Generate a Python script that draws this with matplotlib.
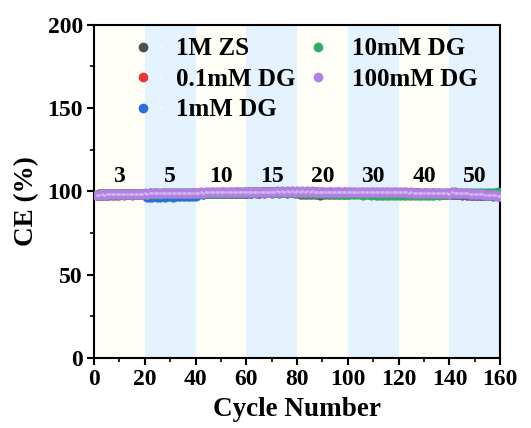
import numpy as np
import matplotlib.pyplot as plt
from matplotlib.legend_handler import HandlerTuple

plt.rcParams['font.family'] = 'Liberation Serif'
plt.rcParams['font.weight'] = 'bold'

# Coulombic efficiency per cycle, current density changes every 20 cycles
cycles = np.arange(1, 161)
rates = ['3', '5', '10', '15', '20', '30', '40', '50']
labels = ['1M ZS', '0.1mM DG', '1mM DG', '10mM DG', '100mM DG']
colors = ['#505050', '#e8343a', '#2a6fd8', '#38a86a', '#b27fe2']

ce_zs = [
    97.9, 98.1, 98.2, 98.0, 98.3, 98.2, 98.1, 98.3, 98.2, 98.4, 98.3, 98.2, 98.4, 98.3, 98.2, 98.4, 98.3, 98.5, 98.4, 98.3,
    98.0, 98.2, 98.1, 98.3, 98.2, 98.1, 98.3, 98.2, 98.4, 98.3, 98.2, 98.4, 98.3, 98.5, 98.4, 98.3, 98.5, 98.4, 98.6, 98.5,
    98.6, 98.7, 98.6, 98.8, 98.7, 98.9, 98.8, 98.7, 98.9, 98.8, 99.0, 98.9, 98.8, 99.0, 98.9, 99.1, 99.0, 98.9, 99.1, 99.0,
    99.2, 99.1, 99.3, 99.2, 99.1, 99.3, 99.2, 99.4, 99.3, 99.2, 99.4, 99.3, 99.2, 99.4, 99.3, 99.2, 99.4, 99.3, 99.2, 99.3,
    98.6, 98.4, 98.2, 98.5, 98.1, 98.5, 98.2, 98.4, 98.0, 98.5, 98.2, 98.1, 98.5, 98.2, 98.4, 98.1, 98.5, 98.2, 98.1, 98.4,
    98.8, 98.9, 98.7, 99.0, 98.8, 98.9, 98.7, 99.0, 98.8, 98.9, 98.7, 99.0, 98.8, 98.9, 98.7, 98.9, 98.8, 98.7, 98.9, 98.8,
    98.6, 98.7, 98.5, 98.7, 98.6, 98.5, 98.7, 98.6, 98.4, 98.6, 98.5, 98.4, 98.6, 98.5, 98.3, 98.5, 98.4, 98.3, 98.5, 98.4,
    98.2, 98.3, 98.1, 98.2, 98.0, 98.1, 97.9, 98.0, 97.8, 97.9, 97.7, 97.8, 97.6, 97.7, 97.5, 97.6, 97.4, 97.5, 97.3, 97.2,
]
ce_01 = [
    97.6, 97.8, 97.7, 97.9, 97.8, 98.0, 97.9, 98.1, 98.0, 97.9, 98.1, 98.0, 98.2, 98.1, 98.0, 98.2, 98.1, 98.3, 98.2, 98.1,
    98.1, 98.3, 98.2, 98.4, 98.3, 98.2, 98.4, 98.3, 98.5, 98.4, 98.3, 98.5, 98.4, 98.6, 98.5, 98.4, 98.6, 98.5, 98.7, 98.6,
    98.7, 98.8, 98.7, 98.9, 98.8, 99.0, 98.9, 98.8, 99.0, 98.9, 99.1, 99.0, 98.9, 99.1, 99.0, 99.2, 99.1, 99.0, 99.2, 99.1,
    99.3, 99.2, 99.4, 99.3, 99.2, 99.4, 99.3, 99.5, 99.4, 99.3, 99.5, 99.4, 99.3, 99.5, 99.4, 99.3, 99.5, 99.4, 99.3, 99.4,
    99.2, 99.3, 99.1, 99.3, 99.2, 99.1, 99.3, 99.2, 99.0, 99.2, 99.1, 99.0, 99.2, 99.1, 99.0, 99.2, 99.1, 99.0, 99.2, 99.1,
    99.0, 99.1, 98.9, 99.1, 99.0, 98.9, 99.1, 99.0, 98.8, 99.0, 98.9, 98.8, 99.0, 98.9, 98.8, 99.0, 98.9, 98.8, 98.9, 98.8,
    98.7, 98.8, 98.6, 98.8, 98.7, 98.6, 98.8, 98.7, 98.5, 98.7, 98.6, 98.5, 98.7, 98.6, 98.5, 98.6, 98.5, 98.4, 98.6, 98.5,
    98.3, 98.4, 98.2, 98.3, 98.1, 98.2, 98.0, 98.1, 97.9, 98.0, 97.8, 97.9, 97.7, 97.8, 97.6, 97.7, 97.5, 97.6, 97.4, 97.3,
]
ce_1 = [
    97.8, 98.0, 97.9, 98.1, 98.0, 98.2, 98.1, 98.0, 98.2, 98.1, 98.3, 98.2, 98.1, 98.3, 98.2, 98.4, 98.3, 98.2, 98.4, 98.3,
    96.6, 96.8, 96.7, 96.9, 96.8, 96.7, 96.9, 96.8, 97.0, 96.9, 96.8, 97.0, 96.9, 97.1, 97.0, 96.9, 97.1, 97.0, 97.2, 97.1,
    98.6, 98.7, 98.6, 98.8, 98.7, 98.9, 98.8, 98.7, 98.9, 98.8, 99.0, 98.9, 98.8, 99.0, 98.9, 99.1, 99.0, 98.9, 99.1, 99.0,
    99.3, 99.2, 99.4, 99.3, 99.2, 99.4, 99.3, 99.5, 99.4, 99.3, 99.5, 99.4, 99.3, 99.5, 99.4, 99.3, 99.5, 99.4, 99.3, 99.4,
    99.3, 99.4, 99.2, 99.4, 99.3, 99.2, 99.4, 99.3, 99.1, 99.3, 99.2, 99.1, 99.3, 99.2, 99.1, 99.3, 99.2, 99.1, 99.3, 99.2,
    99.1, 99.2, 99.0, 99.2, 99.1, 99.0, 99.2, 99.1, 98.9, 99.1, 99.0, 98.9, 99.1, 99.0, 98.9, 99.1, 99.0, 98.9, 99.0, 98.9,
    98.8, 98.9, 98.7, 98.9, 98.8, 98.7, 98.9, 98.8, 98.6, 98.8, 98.7, 98.6, 98.8, 98.7, 98.6, 98.7, 98.6, 98.5, 98.7, 98.6,
    98.4, 98.5, 98.3, 98.4, 98.2, 98.3, 98.1, 98.2, 98.0, 98.1, 97.9, 98.0, 97.8, 97.9, 97.7, 97.8, 97.6, 97.7, 97.5, 97.4,
]
ce_10 = [
    97.9, 98.1, 98.0, 98.2, 98.1, 98.3, 98.2, 98.1, 98.3, 98.2, 98.4, 98.3, 98.2, 98.4, 98.3, 98.5, 98.4, 98.3, 98.5, 98.4,
    98.5, 98.7, 98.6, 98.8, 98.7, 98.6, 98.8, 98.7, 98.9, 98.8, 98.7, 98.9, 98.8, 99.0, 98.9, 98.8, 99.0, 98.9, 99.1, 99.0,
    98.9, 99.0, 98.9, 99.1, 99.0, 99.2, 99.1, 99.0, 99.2, 99.1, 99.3, 99.2, 99.1, 99.3, 99.2, 99.4, 99.3, 99.2, 99.4, 99.3,
    99.4, 99.3, 99.5, 99.4, 99.3, 99.5, 99.4, 99.6, 99.5, 99.4, 99.6, 99.5, 99.4, 99.6, 99.5, 99.4, 99.6, 99.5, 99.4, 99.5,
    99.2, 99.0, 99.1, 98.9, 99.1, 99.0, 98.8, 99.0, 98.9, 98.7, 98.9, 98.8, 98.6, 98.8, 98.7, 98.5, 98.7, 98.6, 98.4, 98.5,
    98.2, 98.3, 98.1, 98.3, 98.2, 98.0, 98.2, 98.1, 97.9, 98.1, 98.0, 97.8, 98.0, 97.9, 97.7, 97.9, 97.8, 97.7, 97.9, 97.8,
    97.9, 98.0, 97.8, 98.0, 97.9, 97.8, 98.0, 97.9, 97.7, 97.9, 97.8, 98.0, 97.9, 97.8, 98.1, 98.0, 98.2, 98.3, 98.5, 98.4,
    99.2, 99.3, 99.2, 99.1, 99.2, 99.0, 99.1, 99.0, 99.1, 98.9, 99.0, 99.1, 99.0, 99.2, 99.1, 99.0, 99.2, 99.1, 99.3, 99.2,
]
ce_100 = [
    97.9, 98.0, 98.1, 98.0, 98.2, 98.1, 98.2, 98.3, 98.2, 98.3, 98.4, 98.3, 98.4, 98.5, 98.4, 98.5, 98.6, 98.5, 98.6, 98.7,
    98.6, 98.7, 98.8, 98.7, 98.8, 98.9, 98.8, 98.9, 99.0, 98.9, 99.0, 99.1, 99.0, 99.1, 99.0, 99.1, 99.2, 99.1, 99.2, 99.1,
    99.2, 99.3, 99.2, 99.3, 99.4, 99.3, 99.4, 99.3, 99.4, 99.5, 99.4, 99.5, 99.4, 99.5, 99.6, 99.5, 99.6, 99.5, 99.6, 99.7,
    99.6, 99.7, 99.6, 99.7, 99.8, 99.7, 99.8, 99.7, 99.8, 99.7, 99.8, 99.9, 99.8, 99.9, 99.8, 99.9, 99.8, 99.9, 99.8, 99.9,
    99.8, 99.9, 99.8, 99.9, 99.8, 99.9, 99.8, 99.7, 99.8, 99.7, 99.8, 99.7, 99.8, 99.7, 99.8, 99.7, 99.8, 99.7, 99.8, 99.7,
    99.6, 99.7, 99.6, 99.7, 99.6, 99.5, 99.6, 99.5, 99.6, 99.5, 99.6, 99.5, 99.4, 99.5, 99.4, 99.5, 99.4, 99.5, 99.4, 99.3,
    99.3, 99.4, 99.3, 99.2, 99.3, 99.2, 99.1, 99.2, 99.1, 99.0, 99.1, 99.0, 98.9, 99.0, 98.9, 98.8, 98.9, 98.8, 98.7, 98.6,
    99.4, 99.2, 99.1, 99.0, 98.9, 98.8, 98.7, 98.6, 98.5, 98.4, 98.3, 98.2, 98.1, 98.0, 97.9, 97.8, 97.6, 97.5, 97.3, 97.1,
]
series = [ce_zs, ce_01, ce_1, ce_10, ce_100]

fig = plt.figure(figsize=(5.31, 4.28), dpi=100)
ax = fig.add_axes([0.177, 0.164, 0.765, 0.778])

# alternating background bands, one per current density
for i, r in enumerate(rates):
    band = '#e3f2fc' if i % 2 else '#fffef6'
    ax.axvspan(i * 20, (i + 1) * 20, color=band, lw=0, zorder=0)
    ax.text(i * 20 + 10, 102.5, r, ha='center', va='bottom',
            fontsize=17, fontweight='bold', zorder=5)

handles = []
for y, c, lab in zip(series, colors, labels):
    ax.plot(cycles, y, 'o', ms=6.8, mfc=c, mec=c, mew=0.4, zorder=3)
    ax.plot(cycles, y, 'o', ms=2.2, mfc='white', mec='none', alpha=0.35, zorder=3)
    h1, = ax.plot([], [], 'o', ms=7, mfc=c, mec='none')
    h2, = ax.plot([], [], 'o', ms=2.5, mfc='white', mec='none', alpha=0.55)
    handles.append((h1, h2))

ax.legend(handles, labels, handler_map={tuple: HandlerTuple(ndivide=None)},
          ncol=2, loc='upper left', bbox_to_anchor=(0.055, 1.03), frameon=False,
          prop={'family': 'Liberation Serif', 'weight': 'bold', 'size': 18},
          handlelength=1.0, handletextpad=0.5, columnspacing=0.75,
          labelspacing=0.3)

ax.set_xlim(0, 160)
ax.set_ylim(0, 200)
ax.set_xticks(np.arange(0, 161, 20))
ax.set_xticks(np.arange(10, 160, 20), minor=True)
ax.set_yticks(np.arange(0, 201, 50))
ax.set_yticks(np.arange(25, 200, 50), minor=True)
ax.tick_params(which='major', direction='out', length=5, width=1.5, labelsize=17, pad=3)
ax.tick_params(which='minor', direction='out', length=3, width=1.2)
for lab in ax.get_xticklabels() + ax.get_yticklabels():
    lab.set_fontweight('bold')
for s in ax.spines.values():
    s.set_linewidth(1.5)

ax.set_xlabel('Cycle Number', fontsize=19.5, fontweight='bold', labelpad=5)
ax.set_ylabel('CE (%)', fontsize=19.5, fontweight='bold')
ax.yaxis.set_label_coords(-0.135, 0.47)

fig.savefig('out.png', dpi=100)
